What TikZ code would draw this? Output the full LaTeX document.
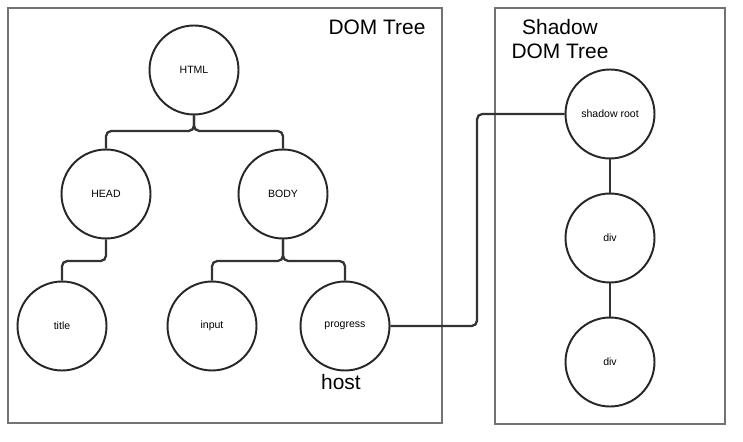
\documentclass[tikz,border=0pt]{standalone}
\usepackage{fontspec}
\setmainfont{Liberation Sans}
\usetikzlibrary{positioning, calc}

\begin{document}
\begin{tikzpicture}[
        x=0.02cm, y=-0.02cm,
        % Define a uniform style for all tree nodes
        dom/.style={
            circle,
            draw=black!85,
            line width=1.1pt,
            minimum size=1.78cm, % same size for every node
            inner sep=0pt,
            font=\fontsize{6}{7}\selectfont
        },
        frame/.style={
            draw=black!55,
            line width=0.6pt
        },
        link/.style={
            draw=black!80,
            line width=1.3pt,
            rounded corners=3pt
        },
        heading/.style={
            font=\fontsize{11.9}{13.4}\selectfont,
            align=center
        }
    ]

    \useasboundingbox (0,0) rectangle (743,442);

    % Draw the frames
    \draw [frame] (8,8) rectangle (442,423);
    \draw [frame] (495,8) rectangle (725,424);
    \node (domtitle) [heading] at (377,27) {DOM Tree};
    \node (shadowtitle) [heading] at (560,39) {Shadow\\DOM Tree};

    % Draw the Nodes
    \node (html) [dom] at (194,70) {HTML};
    \node (head) [dom] at (106,194) {HEAD};
    \node (body) [dom] at (283,194) {BODY};
    \node (title) [dom] at (62,326) {title};
    \node (input) [dom] at (212,326) {input};
    \node (progress) [dom] at (345,326) {progress};
    \node (host) [heading, below=-2pt of progress, xshift=-0.08cm] {host};

    \node (shadow) [dom] at (610,114) {shadow root};
    \node (div1) [dom] at (610,238) {div};
    \node (div2) [dom] at (610,362) {div};

    % Draw the connecting lines
    \coordinate (j1) at (194,131);
    \coordinate (j2) at (106,261);
    \coordinate (j3) at (283,261);
    \coordinate (hop) at (477,114);
    \draw [link] (html.south) -- (j1) -| (head.north);
    \draw [link] (html.south) -- (j1) -| (body.north);
    \draw [link] (head.south) -- (j2) -| (title.north);
    \draw [link] (body.south) -- (j3) -| (input.north);
    \draw [link] (body.south) -- (j3) -| (progress.north);
    \draw [link] (progress.east) -| (hop) -- (shadow.west);
    \draw [link] (shadow) -- (div1);
    \draw [link] (div1) -- (div2);

\end{tikzpicture}
\end{document}
